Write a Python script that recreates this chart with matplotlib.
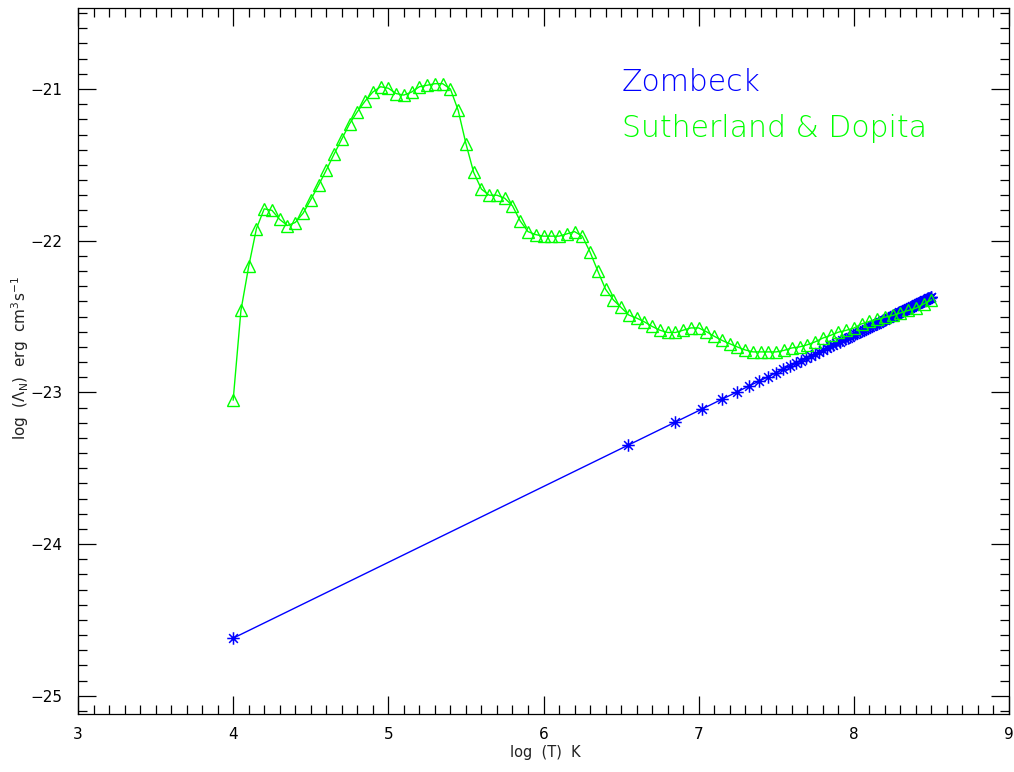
import matplotlib
matplotlib.use("Agg")
import matplotlib.pyplot as plt
from matplotlib.ticker import MultipleLocator
from matplotlib.path import Path

# Zombeck cooling function: log T (K) and log Lambda_N
zombeck_logT = [
    4.000, 6.547, 6.847, 7.023, 7.148, 7.245, 7.324, 7.391, 7.449, 7.500,
    7.546, 7.587, 7.625, 7.660, 7.692, 7.722, 7.750, 7.776, 7.801, 7.825,
    7.847, 7.868, 7.888, 7.908, 7.926, 7.944, 7.961, 7.977, 7.993, 8.008,
    8.023, 8.037, 8.051, 8.064, 8.077, 8.090, 8.102, 8.114, 8.126, 8.137,
    8.148, 8.159, 8.169, 8.179, 8.189, 8.199, 8.209, 8.218, 8.227, 8.236,
    8.245, 8.253, 8.262, 8.270, 8.278, 8.286, 8.294, 8.302, 8.309, 8.317,
    8.324, 8.331, 8.338, 8.345, 8.352, 8.359, 8.365, 8.372, 8.378, 8.385,
    8.391, 8.397, 8.403, 8.409, 8.415, 8.421, 8.427, 8.432, 8.438, 8.443,
    8.449, 8.454, 8.460, 8.465, 8.470, 8.475, 8.480, 8.485, 8.490, 8.495,
    8.500,
]
zombeck_logL = [
    -24.620, -23.347, -23.197, -23.109, -23.046, -22.998, -22.958, -22.925, -22.896, -22.870,
    -22.847, -22.827, -22.808, -22.790, -22.774, -22.759, -22.745, -22.732, -22.720, -22.708,
    -22.697, -22.686, -22.676, -22.666, -22.657, -22.648, -22.640, -22.632, -22.624, -22.616,
    -22.609, -22.602, -22.595, -22.588, -22.582, -22.575, -22.569, -22.563, -22.557, -22.552,
    -22.546, -22.541, -22.536, -22.531, -22.526, -22.521, -22.516, -22.511, -22.507, -22.502,
    -22.498, -22.494, -22.489, -22.485, -22.481, -22.477, -22.473, -22.469, -22.466, -22.462,
    -22.458, -22.455, -22.451, -22.448, -22.444, -22.441, -22.438, -22.434, -22.431, -22.428,
    -22.425, -22.422, -22.419, -22.416, -22.413, -22.410, -22.407, -22.404, -22.401, -22.399,
    -22.396, -22.393, -22.390, -22.388, -22.385, -22.383, -22.380, -22.378, -22.375, -22.373,
    -22.370,
]

# Sutherland & Dopita cooling function
sd_logT = [
    4.00, 4.05, 4.10, 4.15, 4.20, 4.25, 4.30, 4.35, 4.40, 4.45,
    4.50, 4.55, 4.60, 4.65, 4.70, 4.75, 4.80, 4.85, 4.90, 4.95,
    5.00, 5.05, 5.10, 5.15, 5.20, 5.25, 5.30, 5.35, 5.40, 5.45,
    5.50, 5.55, 5.60, 5.65, 5.70, 5.75, 5.80, 5.85, 5.90, 5.95,
    6.00, 6.05, 6.10, 6.15, 6.20, 6.25, 6.30, 6.35, 6.40, 6.45,
    6.50, 6.55, 6.60, 6.65, 6.70, 6.75, 6.80, 6.85, 6.90, 6.95,
    7.00, 7.05, 7.10, 7.15, 7.20, 7.25, 7.30, 7.35, 7.40, 7.45,
    7.50, 7.55, 7.60, 7.65, 7.70, 7.75, 7.80, 7.85, 7.90, 7.95,
    8.00, 8.05, 8.10, 8.15, 8.20, 8.25, 8.30, 8.35, 8.40, 8.45,
    8.50,
]
sd_logL = [
    -23.050, -22.460, -22.170, -21.920, -21.790, -21.800, -21.860, -21.900, -21.880, -21.820,
    -21.730, -21.635, -21.535, -21.430, -21.330, -21.230, -21.150, -21.080, -21.020, -20.985,
    -20.995, -21.030, -21.040, -21.020, -20.985, -20.975, -20.965, -20.965, -21.000, -21.140,
    -21.360, -21.550, -21.660, -21.700, -21.700, -21.720, -21.770, -21.870, -21.940, -21.960,
    -21.970, -21.970, -21.970, -21.955, -21.940, -21.970, -22.075, -22.200, -22.320, -22.390,
    -22.440, -22.490, -22.510, -22.535, -22.565, -22.590, -22.605, -22.605, -22.590, -22.575,
    -22.575, -22.600, -22.630, -22.657, -22.679, -22.701, -22.720, -22.733, -22.733, -22.733,
    -22.733, -22.723, -22.707, -22.700, -22.686, -22.667, -22.642, -22.624, -22.603, -22.591,
    -22.576, -22.548, -22.532, -22.519, -22.504, -22.493, -22.476, -22.460, -22.445, -22.417,
    -22.390,
]

x_ticks = [3, 4, 5, 6, 7, 8, 9]
y_ticks = [-25, -24, -23, -22, -21]
series_names = ["Zombeck", "Sutherland & Dopita"]
series_colors = ["#0000ff", "#00ff00"]

plt.rcParams["font.family"] = ["DejaVu Sans"]
plt.rcParams["mathtext.default"] = "regular"
plt.rcParams["axes.unicode_minus"] = True

fig = plt.figure(figsize=(10.14, 7.72), dpi=100)
ax = fig.add_axes([78 / 1014, 1 - 714 / 772, (1009 - 78) / 1014, (714 - 8) / 772])

# asterisk marker: four crossing strokes
asterisk = Path(
    [(-1, 0), (1, 0), (0, -1), (0, 1),
     (-0.7, -0.7), (0.7, 0.7), (-0.7, 0.7), (0.7, -0.7)],
    [Path.MOVETO, Path.LINETO, Path.MOVETO, Path.LINETO,
     Path.MOVETO, Path.LINETO, Path.MOVETO, Path.LINETO],
)

ax.plot(zombeck_logT, zombeck_logL, color=series_colors[0], lw=1.0,
        marker=asterisk, ms=9, mew=1.1, mec=series_colors[0])
ax.plot(sd_logT, sd_logL, color=series_colors[1], lw=1.0,
        marker="^", ms=8.5, mfc="none", mew=1.0, mec=series_colors[1])

ax.set_xlim(3, 9)
ax.set_ylim(-25.12, -20.466)
ax.set_xticks(x_ticks)
ax.set_yticks(y_ticks)
ax.xaxis.set_minor_locator(MultipleLocator(0.1))
ax.yaxis.set_minor_locator(MultipleLocator(0.1))
ax.tick_params(which="both", direction="in", top=True, right=True, colors="black",
               width=0.9)
ax.tick_params(which="major", length=13)
ax.tick_params(which="minor", length=6.5)
ax.tick_params(axis="x", which="major", pad=9.5, labelsize=11)
ax.tick_params(axis="y", which="major", pad=11, labelsize=11)
for sp in ax.spines.values():
    sp.set_linewidth(0.9)
    sp.set_color("black")

fig.text(545 / 1014, 1 - 757 / 772, "log  (T)  K", ha="center", va="baseline",
         fontsize=10.5, color="#222222")
fig.text(20 / 1014, 1 - 358 / 772, r"log  ($\Lambda_N$)  erg  cm$^3$s$^{-1}$",
         ha="center", va="center", rotation=90, fontsize=11, color="#222222")

fig.text(622 / 1014, 1 - 91 / 772, series_names[0], color=series_colors[0],
         fontsize=21.5, ha="left", va="baseline", fontweight="light")
fig.text(622 / 1014, 1 - 137 / 772, series_names[1], color=series_colors[1],
         fontsize=21.5, ha="left", va="baseline", fontweight="light")

fig.savefig("out.png", dpi=100)
